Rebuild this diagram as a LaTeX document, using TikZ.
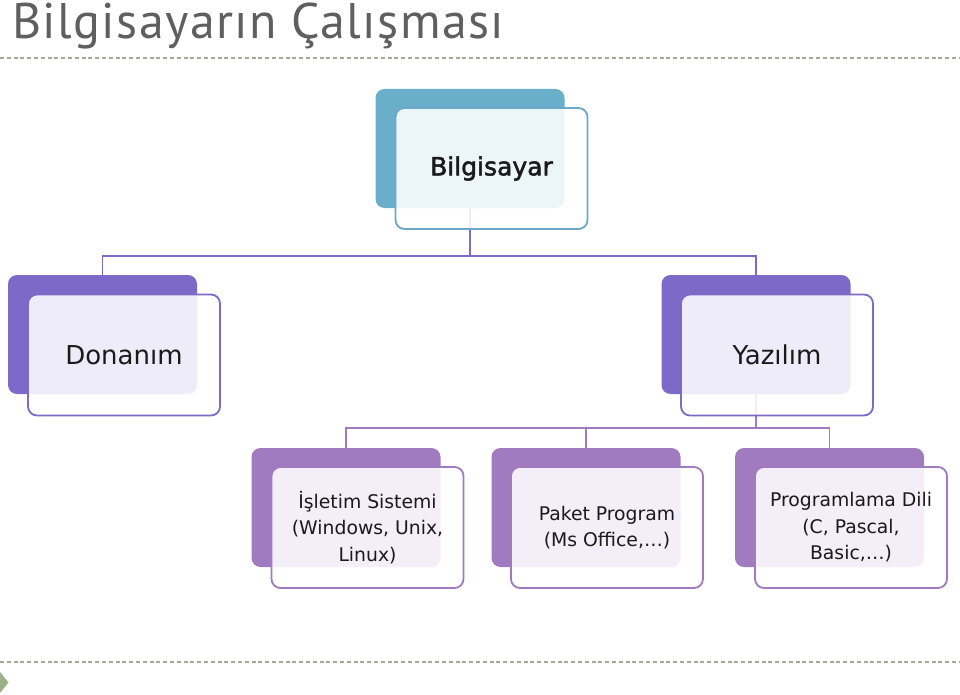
\documentclass[tikz,border=0pt]{standalone}
\usepackage{fontspec}
\setmainfont{DejaVu Sans}
\newfontfamily\titlefont[LetterSpace=2.8]{PT Sans}
\newfontfamily\boxfont{DejaVu Sans}
\definecolor{titlegray}{HTML}{5F5F5F}
\definecolor{dashgray}{HTML}{A4A89A}
\definecolor{trigreen}{HTML}{9CB08A}
\definecolor{topblue}{HTML}{69AFCA}
\definecolor{topedge}{HTML}{6CA8C8}
\definecolor{midpurple}{HTML}{7B6AC8}
\definecolor{lowpurple}{HTML}{A07BBF}
\definecolor{textdark}{HTML}{1A1A1A}
\tikzset{
  backbox/.style={rectangle, rounded corners=9pt, minimum width=189pt, minimum height=119pt, inner sep=0pt, draw=none},
  frontbox/.style={rectangle, rounded corners=9pt, minimum width=192pt, minimum height=121pt, inner sep=0pt, draw, line width=1.8pt, fill=white, fill opacity=0.88, text opacity=1, text=textdark, align=center},
  conn/.style={line width=1.8pt},
  sep/.style={draw=dashgray, line width=1.6pt, dash pattern=on 4pt off 2.8pt},
  smalltext/.style={font=\boxfont\fontsize{18.8}{26.5}\selectfont},
  midtext/.style={font=\boxfont\fontsize{26}{30}\selectfont},
}
\begin{document}
\begin{tikzpicture}[x=1pt,y=-1pt]
\useasboundingbox (0,0) rectangle (960,695);
% title
\node[anchor=base west, inner sep=0pt, text=titlegray, font=\titlefont\fontsize{50}{54}\selectfont] (title) at (12,39) {Bilgisayarın Çalışması};
\coordinate (s1a) at (0,58); \coordinate (s1b) at (960,58);
\coordinate (s2a) at (0,662); \coordinate (s2b) at (960,662);
\draw[sep] (s1a) -- (s1b);
\draw[sep] (s2a) -- (s2b);
\coordinate (t1) at (0,672); \coordinate (t2) at (8.5,682.5); \coordinate (t3) at (0,693);
\fill[trigreen] (t1) -- (t2) -- (t3) -- cycle;
% back boxes
\node[backbox, fill=topblue] (topb) at (470,148.5) {};
\node[backbox, fill=midpurple] (donb) at (102.5,334.5) {};
\node[backbox, fill=midpurple] (yazb) at (756,334.5) {};
\node[backbox, fill=lowpurple] (b1b) at (346,507.5) {};
\node[backbox, fill=lowpurple] (b2b) at (586,507.5) {};
\node[backbox, fill=lowpurple] (b3b) at (829.5,507.5) {};
% connectors
\draw[conn, draw=midpurple] (topb.south) -- ++(0,48) coordinate (j1);
\draw[conn, draw=midpurple] (j1) -| (donb.north);
\draw[conn, draw=midpurple] (j1) -| (yazb.north);
\draw[conn, draw=lowpurple] (yazb.south) -- ++(0,34) coordinate (j2);
\draw[conn, draw=lowpurple] (j2) -| (b1b.north);
\draw[conn, draw=lowpurple] (j2) -| (b2b.north);
\draw[conn, draw=lowpurple] (j2) -| (b3b.north);
% front boxes
\node[frontbox, draw=topedge, font=\boxfont\fontsize{25}{30}\selectfont] (topf) at (491.5,168.5) {\addfontfeature{FakeBold=2}Bilgisayar};
\node[frontbox, draw=midpurple, midtext] (donf) at (124,355) {Donanım};
\node[frontbox, draw=midpurple, midtext] (yazf) at (777,355) {Yazılım};
\node[frontbox, draw=lowpurple, smalltext] (b1f) at (367.5,527.5) {İşletim Sistemi\\(Windows, Unix,\\Linux)};
\node[frontbox, draw=lowpurple, smalltext] (b2f) at (607,527.5) {Paket Program\\(Ms Office,…)};
\node[frontbox, draw=lowpurple, smalltext] (b3f) at (851,527.5) {Programlama Dili\\(C, Pascal,\\Basic,…)};
\end{tikzpicture}
\end{document}
